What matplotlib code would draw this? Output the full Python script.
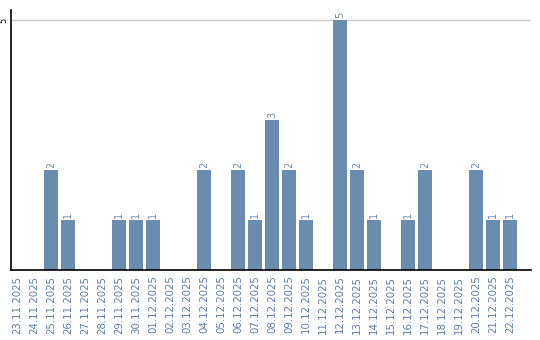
import matplotlib.pyplot as plt

dates = ['23.11.2025', '24.11.2025', '25.11.2025', '26.11.2025', '27.11.2025',
         '28.11.2025', '29.11.2025', '30.11.2025', '01.12.2025', '02.12.2025',
         '03.12.2025', '04.12.2025', '05.12.2025', '06.12.2025', '07.12.2025',
         '08.12.2025', '09.12.2025', '10.12.2025', '11.12.2025', '12.12.2025',
         '13.12.2025', '14.12.2025', '15.12.2025', '16.12.2025', '17.12.2025',
         '18.12.2025', '19.12.2025', '20.12.2025', '21.12.2025', '22.12.2025']
counts = [0, 0, 2, 1, 0, 0, 1, 1, 1, 0, 0, 2, 0, 2, 1,
          3, 2, 1, 0, 5, 2, 1, 0, 1, 2, 0, 0, 2, 1, 1]
y_ticks = [5]

bar_color = '#6a8caf'
label_color = '#6a8caf'

fig = plt.figure(figsize=(5.4, 3.4), dpi=100)
ax = fig.add_axes([11 / 540, 70 / 340, 520 / 540, 260 / 340])

x = list(range(len(dates)))
ax.bar(x, counts, width=0.82, color=bar_color, zorder=2)

for xi, v in zip(x, counts):
    if v > 0:
        ax.text(xi, v + 0.04, str(v), rotation=90, ha='center', va='bottom',
                fontsize=7, color=label_color)

ax.set_xlim(-0.35, 30.24)
ax.set_ylim(0, 5.2)
ax.set_xticks(x)
ax.set_xticklabels(dates, rotation=90, fontsize=7.4, color='#5f7fa8')
ax.set_yticks(y_ticks)
ax.set_yticklabels([str(t) for t in y_ticks], rotation=90, fontsize=6,
                   va='center', ha='center')
ax.tick_params(axis='x', length=0, pad=4)
ax.tick_params(axis='y', length=0, pad=5)
ax.grid(axis='y', color='#cccccc', linewidth=1, zorder=0)

for side in ['top', 'right']:
    ax.spines[side].set_visible(False)
for side in ['left', 'bottom']:
    ax.spines[side].set_color('black')
    ax.spines[side].set_linewidth(1.2)

fig.savefig('out.png', dpi=100)
